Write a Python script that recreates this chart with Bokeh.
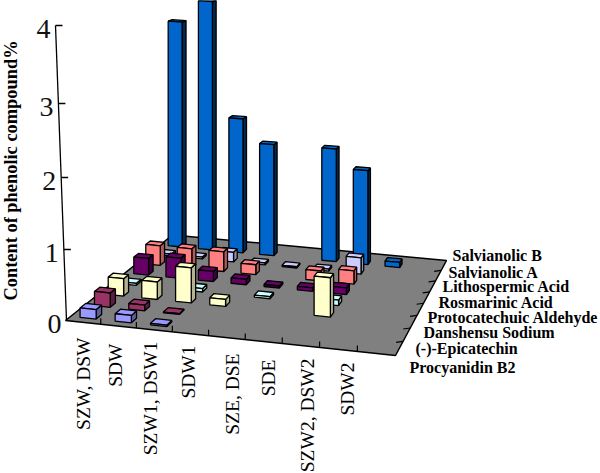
import numpy as np
from bokeh.plotting import figure
from bokeh.models import Range1d
from bokeh.core.properties import value
from bokeh.embed import file_html
from bokeh.resources import INLINE

categories = ["SZW, DSW", "SDW", "SZW1, DSW1", "SDW1", "SZE, DSE", "SDE", "SZW2, DSW2", "SDW2"]
series_names = ["Procyanidin B2", "(-)-Epicatechin", "Danshensu Sodium", "Protocatechuic  Aldehyde",
                "Rosmarinic Acid", "Lithospermic Acid", "Salvianolic A", "Salvianolic B"]
procyanidin_b2 = [0.13, 0.10, 0.02, 0, 0, 0, 0, 0]
epicatechin = [0.20, 0.08, 0.01, 0, 0, 0, 0, 0]
danshensu_sodium = [0.25, 0.25, 0.50, 0.10, 0, 0, 0.55, 0]
protocatechuic_aldehyde = [0.03, 0, 0.05, 0, 0.03, 0, 0.08, 0]
rosmarinic_acid = [0.25, 0.30, 0.15, 0.08, 0.03, 0.05, 0.10, 0]
lithospermic_acid = [0.30, 0.30, 0.30, 0.15, 0, 0.15, 0.20, 0]
salvianolic_a = [0.03, 0.03, 0.15, 0.03, 0.02, 0.03, 0.25, 0]
salvianolic_b = [3.61, 3.97, 2.13, 1.76, 0, 1.77, 1.47, 0.08]
series_values = [procyanidin_b2, epicatechin, danshensu_sodium, protocatechuic_aldehyde,
                 rosmarinic_acid, lithospermic_acid, salvianolic_a, salvianolic_b]
front_colors = ["#9999FF", "#993366", "#FFFFCC", "#CCFFFF", "#660066", "#FF8080", "#CCCCFF", "#0066CC"]
side_colors = ["#5C5C99", "#5C1F3D", "#B3B38F", "#8FB3B3", "#3D003D", "#B35A5A", "#8F8FB3", "#002850"]
z_ticks = [0, 1, 2, 3, 4]

# Layout of the texts (page pixels)
category_x = [83, 115, 150, 188, 232, 268, 307, 347]
category_top = [337, 343, 341, 345, 353, 359, 358, 362]
series_x = [409, 415, 423, 427, 438, 442, 448, 452]
series_y = [367, 348, 332, 317, 302, 286, 272, 255]

# Projection of the 3D scene onto the page (9 category cells, the last one empty; 8 rows)
N_U, N_V = 9, 8
FL, FR, BR, BL = (65, 320), (395, 355), (446, 260), (172, 234.5)
src = np.array([[0, 0], [N_U, 0], [N_U, N_V], [0, N_V]], float)
dst = np.array([FL, FR, BR, BL], float)
A, b = [], []
for (u, v), (x, y) in zip(src, dst):
    A.append([u, v, 1, 0, 0, 0, -u * x, -v * x]); b.append(x)
    A.append([0, 0, 0, u, v, 1, -u * y, -v * y]); b.append(y)
H = np.append(np.linalg.solve(np.array(A), np.array(b)), 1).reshape(3, 3)
Z_UNIT = 73.5
ROW_PITCH = 0.94


def proj(u, v, z=0.0):
    x, y, w = H @ np.array([u, v, 1.0])
    return x / w, y / w - z * Z_UNIT / w


p = figure(width=600, height=473, x_range=Range1d(0, 600), y_range=Range1d(473, 0),
           output_backend="svg", toolbar_location=None, min_border=0)
p.axis.visible = False
p.grid.visible = False
p.outline_line_color = None
p.background_fill_color = "white"

# floor
corners = [proj(0, 0), proj(N_U, 0), proj(N_U, N_V), proj(0, N_V)]
p.patch([c[0] for c in corners], [c[1] for c in corners], fill_color="#808080",
        line_color="black", line_width=1.5)

# floor ticks
for i in range(1, N_U):
    x, y = proj(i, 0)
    p.segment([x], [y], [x], [y - 6], line_color="black", line_width=1.2)
for i in range(1, N_V):
    x, y = proj(N_U, i)
    p.segment([x], [y], [x - 7], [y + 1], line_color="black", line_width=1.2)

# value axis
AX0, AX4 = (66, 320), (55, 25)
ax_y = {0: 320, 1: 249, 2: 177, 3: 103, 4: 25}
p.line([AX0[0], AX4[0]], [AX0[1], AX4[1]], line_color="black", line_width=1.3)
for t in z_ticks:
    y = ax_y[t]
    x = AX0[0] + (AX4[0] - AX0[0]) * (320 - y) / 295
    if t > 0:
        p.segment([x], [y], [x + 7], [y], line_color="black", line_width=1.3)
    p.text([x - 5], [y + 3], text=[str(t)], text_font=value("Liberation Serif"), text_font_size="28px",
           text_align="right", text_baseline="middle", text_color="#111111")

# bars, back to front
BW_U, BW_V = 0.46, 0.36
xs, ys, fills = [], [], []
for s in range(7, -1, -1):
    for c in range(8):
        val = series_values[s][c]
        if val <= 0:
            continue
        vc = 0.5 + s * ROW_PITCH
        u0, u1 = c + 0.5 - BW_U / 2, c + 0.5 + BW_U / 2
        v0, v1 = vc - BW_V / 2, vc + BW_V / 2
        faces = [
            ([(u1, v0, 0), (u1, v1, 0), (u1, v1, val), (u1, v0, val)], side_colors[s]),
            ([(u0, v0, val), (u1, v0, val), (u1, v1, val), (u0, v1, val)], front_colors[s]),
            ([(u0, v0, 0), (u1, v0, 0), (u1, v0, val), (u0, v0, val)], front_colors[s]),
        ]
        for pts, col in faces:
            q = [proj(*pt) for pt in pts]
            xs.append([a[0] for a in q])
            ys.append([a[1] for a in q])
            fills.append(col)
p.patches(xs, ys, fill_color=fills, line_color="black", line_width=1.3)

# category labels
for name, x, y in zip(categories, category_x, category_top):
    p.text([x], [y], text=[name], angle=np.pi / 2, text_font=value("Liberation Serif"),
           text_font_size="19.5px", text_align="right", text_baseline="middle", text_color="black")

# series labels
for name, x, y in zip(series_names, series_x, series_y):
    p.text([x], [y], text=[name], text_font=value("Liberation Serif"),
           text_font_style="bold", text_font_size="16px", text_align="left", text_baseline="middle",
           text_color="black")

# value axis title
p.text([10], [300], text=["Content of phenolic compound%"], angle=np.pi / 2,
       text_font=value("Liberation Serif"), text_font_style="bold", text_font_size="18.4px",
       text_align="left", text_baseline="middle", text_color="black")

open("out.html", "w").write(file_html(p, INLINE))
